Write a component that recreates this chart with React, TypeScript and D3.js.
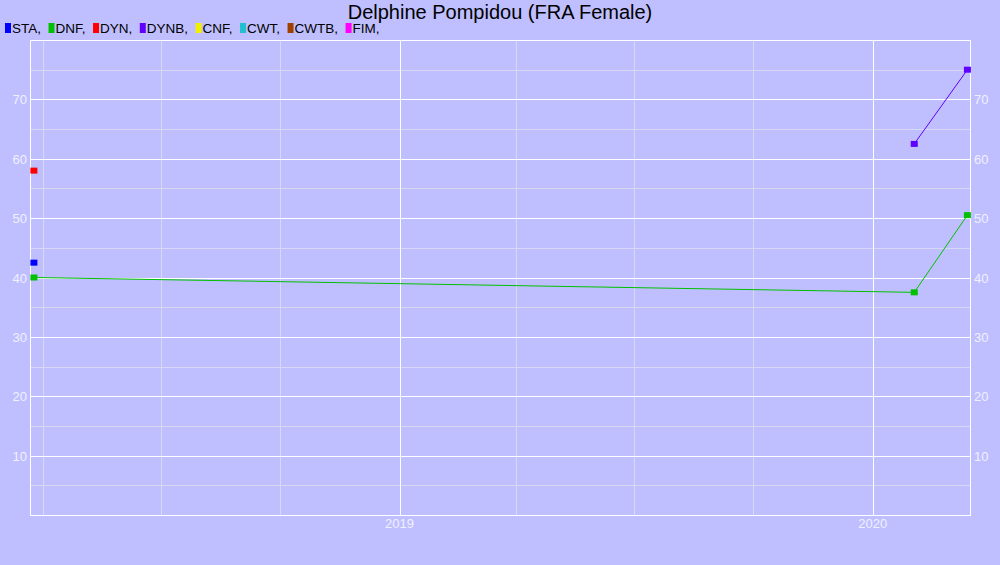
import { useEffect, useRef } from 'react';
import * as d3 from 'd3';

// Series data
const staDates = ['2018-03-25'];
const staValues = [42.5];
const dnfDates = ['2018-03-25', '2020-02-02', '2020-03-14'];
const dnfValues = [40, 37.5, 50.5];
const dynDates = ['2018-03-25'];
const dynValues = [58];
const dynbDates = ['2020-02-02', '2020-03-14'];
const dynbValues = [62.5, 75];

const legendNames = ['STA', 'DNF', 'DYN', 'DYNB', 'CNF', 'CWT', 'CWTB', 'FIM'];
const legendColors = ['#0000ff', '#00c000', '#ff0000', '#6000ff', '#f0f000', '#20c0d0', '#a04000', '#ff00ff'];

const yTicks = [10, 20, 30, 40, 50, 60, 70];
const yMinorTicks = [5, 15, 25, 35, 45, 55, 65, 75];
const xYearTicks = ['2019-01-01', '2020-01-01'];
const xMinorTicks = ['2018-04-01', '2018-07-01', '2018-10-01', '2019-04-01', '2019-07-01', '2019-10-01'];
const xDomain = ['2018-03-22', '2020-03-16'];
const yDomain = [0, 80];

const title = 'Delphine Pompidou (FRA Female)';

const parse = d3.timeParse('%Y-%m-%d');

export default function App() {
    const svgRef = useRef<SVGSVGElement>(null);

    useEffect(() => {
        if (!svgRef.current) return;
        const svg = d3.select(svgRef.current);
        svg.selectAll('*').remove();

        const width = 1000;
        const height = 565;
        const plot = { left: 30, right: 970, top: 40, bottom: 515 };

        svg.append('rect').attr('width', width).attr('height', height).attr('fill', '#bfbfff');

        const x = d3
            .scaleTime()
            .domain(xDomain.map((d) => parse(d) as Date))
            .range([plot.left, plot.right]);
        const y = d3.scaleLinear().domain(yDomain).range([plot.bottom, plot.top]);

        const grid = svg.append('g');
        // minor grid
        yMinorTicks.forEach((v) => {
            grid.append('line')
                .attr('x1', plot.left).attr('x2', plot.right)
                .attr('y1', Math.round(y(v)) + 0.5).attr('y2', Math.round(y(v)) + 0.5)
                .attr('stroke', '#d8d8f4');
        });
        xMinorTicks.forEach((d) => {
            const px = Math.round(x(parse(d) as Date)) + 0.5;
            grid.append('line')
                .attr('x1', px).attr('x2', px)
                .attr('y1', plot.top).attr('y2', plot.bottom)
                .attr('stroke', '#d8d8f4');
        });
        // major grid
        yTicks.forEach((v) => {
            grid.append('line')
                .attr('x1', plot.left).attr('x2', plot.right)
                .attr('y1', Math.round(y(v)) + 0.5).attr('y2', Math.round(y(v)) + 0.5)
                .attr('stroke', '#ffffff');
        });
        xYearTicks.forEach((d) => {
            const px = Math.round(x(parse(d) as Date)) + 0.5;
            grid.append('line')
                .attr('x1', px).attr('x2', px)
                .attr('y1', plot.top).attr('y2', plot.bottom)
                .attr('stroke', '#ffffff');
        });
        // frame
        svg.append('rect')
            .attr('x', plot.left + 0.5).attr('y', plot.top + 0.5)
            .attr('width', plot.right - plot.left).attr('height', plot.bottom - plot.top)
            .attr('fill', 'none').attr('stroke', '#ffffff');

        // axis labels
        const labelColor = '#f0f0ff';
        const font = 'Arial, "Liberation Sans", sans-serif';
        yTicks.forEach((v) => {
            svg.append('text')
                .attr('x', plot.left - 3).attr('y', y(v) + 5)
                .attr('text-anchor', 'end')
                .attr('font-family', font).attr('font-size', 13)
                .attr('fill', labelColor)
                .text(v);
            svg.append('text')
                .attr('x', plot.right + 4).attr('y', y(v) + 5)
                .attr('font-family', font).attr('font-size', 13)
                .attr('fill', labelColor)
                .text(v);
        });
        xYearTicks.forEach((d) => {
            svg.append('text')
                .attr('x', x(parse(d) as Date)).attr('y', plot.bottom + 13)
                .attr('text-anchor', 'middle')
                .attr('font-family', font).attr('font-size', 13)
                .attr('fill', labelColor)
                .text(d3.timeFormat('%Y')(parse(d) as Date));
        });

        // series
        const series = [
            { dates: staDates, values: staValues, color: legendColors[0] },
            { dates: dnfDates, values: dnfValues, color: legendColors[1] },
            { dates: dynDates, values: dynValues, color: legendColors[2] },
            { dates: dynbDates, values: dynbValues, color: legendColors[3] },
        ];
        const line = d3
            .line<[Date, number]>()
            .x((d) => x(d[0]))
            .y((d) => y(d[1]));

        const marks = svg.append('g');
        series.forEach((s) => {
            const pts: [Date, number][] = s.dates.map((d, i) => [parse(d) as Date, s.values[i]]);
            if (pts.length > 1) {
                marks.append('path')
                    .datum(pts)
                    .attr('fill', 'none')
                    .attr('stroke', s.color)
                    .attr('stroke-width', 1)
                    .attr('d', line);
            }
            marks.selectAll(null)
                .data(pts)
                .enter()
                .append('rect')
                .attr('x', (d) => x(d[0]) - 3.5)
                .attr('y', (d) => y(d[1]) - 3)
                .attr('width', 7)
                .attr('height', 6)
                .attr('fill', s.color);
        });

        // title
        svg.append('text')
            .attr('x', width / 2).attr('y', 19)
            .attr('text-anchor', 'middle')
            .attr('font-family', font).attr('font-size', 20)
            .attr('fill', '#000000')
            .text(title);

        // legend
        const legend = svg.append('g');
        let lx = 5;
        legendNames.forEach((name, i) => {
            legend.append('rect')
                .attr('x', lx).attr('y', 23)
                .attr('width', 6).attr('height', 10)
                .attr('fill', legendColors[i]);
            const t = legend.append('text')
                .attr('x', lx + 7).attr('y', 33)
                .attr('font-family', font).attr('font-size', 13.5)
                .attr('fill', '#000000')
                .text(`${name},`);
            const w = (t.node() as SVGTextElement).getComputedTextLength();
            lx += 7 + w + 7.5;
        });
    }, []);

    return (
        <svg
            ref={svgRef}
            width={1000}
            height={565}
            style={{ position: 'absolute', left: 0, top: 0, display: 'block' }}
        />
    );
}
